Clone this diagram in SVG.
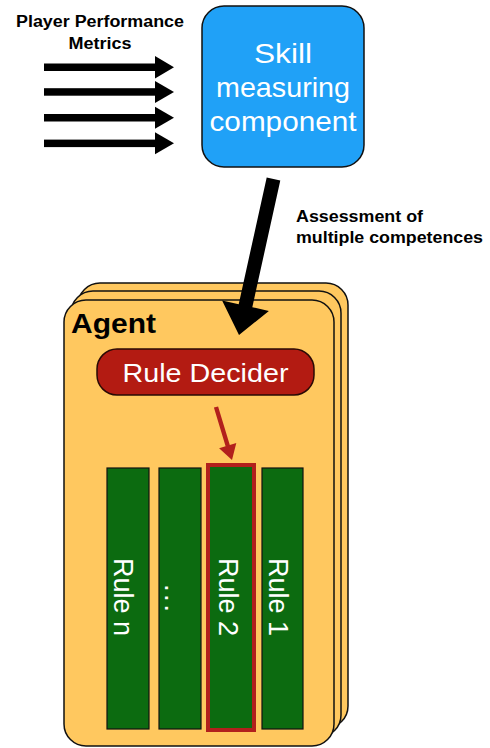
<svg xmlns="http://www.w3.org/2000/svg" width="490" height="748" viewBox="0 0 490 748">
<style>
.lbl{font-family:"Liberation Sans",Arial,sans-serif;font-weight:bold;fill:#000}
.wt{font-family:"Liberation Sans",Arial,sans-serif;fill:#fff}
.card{fill:#FFC85F;stroke:#111;stroke-width:1.5}
.rule{fill:#0C6B10;stroke:#111;stroke-width:1.2}
</style>
<rect width="490" height="748" fill="#fff"/>
<g id="labels">
<text class="lbl" x="100" y="27" font-size="16" text-anchor="middle" textLength="168" lengthAdjust="spacingAndGlyphs">Player Performance</text>
<text class="lbl" x="100" y="49" font-size="16" text-anchor="middle" textLength="63" lengthAdjust="spacingAndGlyphs">Metrics</text>
<text class="lbl" x="296" y="222" font-size="16" textLength="127" lengthAdjust="spacingAndGlyphs">Assessment of</text>
<text class="lbl" x="296" y="243" font-size="16" textLength="187" lengthAdjust="spacingAndGlyphs">multiple competences</text>
</g>
<g id="skill-component">
<rect x="202" y="6" width="162" height="161" rx="22" fill="#20A1F7" stroke="#111" stroke-width="1.5"/>
<text class="wt" x="283" y="63" font-size="28" text-anchor="middle" textLength="58" lengthAdjust="spacingAndGlyphs">Skill</text>
<text class="wt" x="283" y="97" font-size="28" text-anchor="middle" textLength="134" lengthAdjust="spacingAndGlyphs">measuring</text>
<text class="wt" x="283" y="131" font-size="28" text-anchor="middle" textLength="147" lengthAdjust="spacingAndGlyphs">component</text>
</g>
<g id="agent">
<rect class="card" x="78" y="283" width="270" height="445" rx="22"/>
<rect class="card" x="71" y="291" width="270" height="446" rx="22"/>
<rect class="card" x="64" y="300" width="270" height="446" rx="22"/>
<text class="lbl" x="71" y="333" font-size="27" textLength="85" lengthAdjust="spacingAndGlyphs">Agent</text>
</g>
<g id="rule-decider">
<rect x="97" y="349" width="217" height="46" rx="20" fill="#B31B12" stroke="#2a0a05" stroke-width="1.5"/>
<text class="wt" x="205.5" y="382" font-size="25" text-anchor="middle" textLength="166" lengthAdjust="spacingAndGlyphs">Rule Decider</text>
</g>
<g id="rule-n">
<rect class="rule" x="107" y="468" width="42" height="261"/>
<text class="wt" font-size="27" text-anchor="middle" transform="translate(114,597) rotate(90)">Rule n</text>
</g>
<g id="rule-dots">
<rect class="rule" x="159" y="468" width="42" height="261"/>
<text class="wt" font-size="28" text-anchor="middle" textLength="28" lengthAdjust="spacing" transform="translate(165,598) rotate(90)">...</text>
</g>
<g id="rule-2">
<rect x="208" y="465" width="46" height="265" fill="#0C6B10" stroke="#B2201C" stroke-width="4"/>
<text class="wt" font-size="27" text-anchor="middle" transform="translate(219,597) rotate(90)">Rule 2</text>
</g>
<g id="rule-1">
<rect class="rule" x="262" y="468" width="41" height="261"/>
<text class="wt" font-size="27" text-anchor="middle" transform="translate(269,597) rotate(90)">Rule 1</text>
</g>
<g id="connectors">
<g fill="#000">
<rect x="44" y="63.5" width="112" height="7.5"/>
<polygon points="155,56 174,67.2 155,78.4"/>
<rect x="44" y="88.2" width="112" height="7.5"/>
<polygon points="155,81 174,92 155,103"/>
<rect x="44" y="114" width="112" height="7.5"/>
<polygon points="155,106.7 174,117.7 155,128.7"/>
<rect x="44" y="139.6" width="112" height="7.5"/>
<polygon points="155,132.3 174,143.3 155,154.3"/>
<polygon points="266.7,177.5 280.3,180.5 252.3,307.2 268.9,310.9 239,335 222.1,300.5 238.7,304.2"/>
</g>
<polygon fill="#B2201C" points="213.9,407.6 218.1,406.4 229.8,445.0 236.3,443.0 232,460 219.1,448.2 225.6,446.2"/>
</g>
</svg>
